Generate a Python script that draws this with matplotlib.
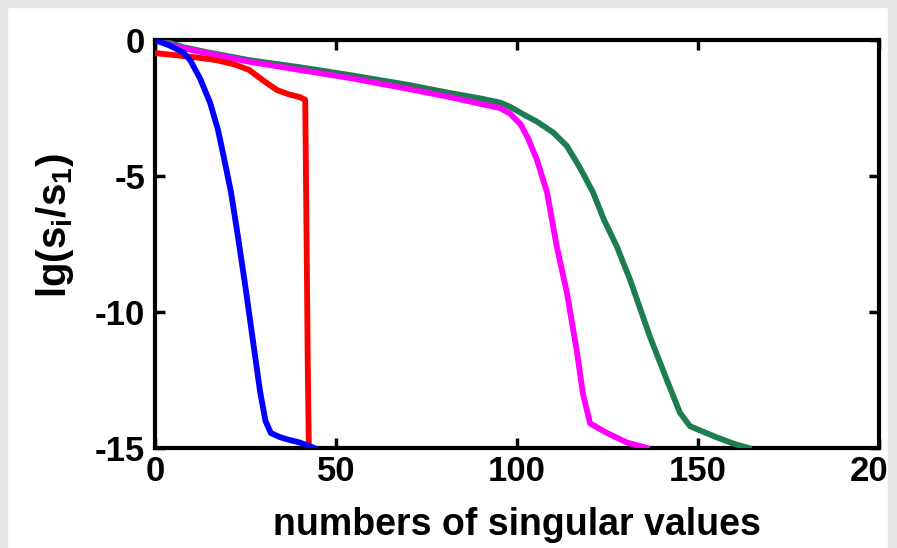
import matplotlib
matplotlib.use("Agg")
import matplotlib.pyplot as plt
from matplotlib.patches import Rectangle

plt.rcParams['font.family'] = ['Liberation Sans', 'DejaVu Sans']
plt.rcParams['font.weight'] = 'bold'
plt.rcParams['axes.unicode_minus'] = False
plt.rcParams['mathtext.fontset'] = 'custom'
plt.rcParams['mathtext.rm'] = 'Liberation Sans:bold'
plt.rcParams['mathtext.it'] = 'Liberation Sans:bold'
plt.rcParams['mathtext.bf'] = 'Liberation Sans:bold'

# blue series
blue_x = [0, 4, 7.7, 9.7, 12.4, 15.2, 17.4, 19, 21, 23, 25, 27, 29, 30.5, 32, 34.5, 37, 40, 42, 44]
blue_y = [0, -0.2, -0.45, -0.74, -1.4, -2.3, -3.3, -4.3, -5.6, -7.3, -9.1, -11.0, -12.9, -14.0, -14.45, -14.6, -14.7, -14.8, -14.9, -15.0]

# red series
red_x = [0, 5, 12, 17, 22, 26, 30, 33.7, 37, 40, 41.5, 42.0, 42.2, 42.5]
red_y = [-0.48, -0.55, -0.65, -0.74, -0.9, -1.1, -1.5, -1.84, -2.0, -2.1, -2.2, -9.0, -12.0, -15.0]

# magenta series
mag_x = [0, 5, 12, 26, 40, 53.9, 70, 81.5, 90, 95.3, 98, 101, 103, 105.5, 108.3, 111, 113.8, 116.6, 118.2, 120.2, 124.9, 130.4, 135.9]
mag_y = [0, -0.22, -0.42, -0.8, -1.1, -1.4, -1.8, -2.1, -2.35, -2.5, -2.7, -3.1, -3.6, -4.4, -5.6, -7.6, -9.3, -11.5, -13.0, -14.1, -14.45, -14.8, -15.0]

# green series
grn_x = [0, 4, 7.7, 14.4, 26, 40, 53.9, 70, 81.5, 90, 95.3, 98, 102, 105.5, 110, 113.8, 117.4, 121, 124, 127.6, 131.2, 136.7, 141.4, 145, 147.8, 155, 160, 164]
grn_y = [0, -0.1, -0.26, -0.45, -0.74, -1.0, -1.29, -1.65, -1.95, -2.15, -2.3, -2.45, -2.75, -3.0, -3.4, -3.9, -4.7, -5.6, -6.6, -7.6, -8.8, -10.9, -12.5, -13.7, -14.2, -14.6, -14.85, -15.0]

x_ticks = [0, 50, 100, 150, 200]
y_ticks = [0, -5, -10, -15]

fig = plt.figure(figsize=(8.97, 5.48), dpi=100)
ax = fig.add_axes([155/897, 1-448/548, (879-155)/897, (448-40)/548])

lw = 4.2
ax.plot(grn_x, grn_y, color='#1e7d4f', lw=lw, zorder=3)
ax.plot(mag_x, mag_y, color='#ff00ff', lw=lw, zorder=4)
ax.plot(red_x, red_y, color='#ff0000', lw=lw, zorder=5)
ax.plot(blue_x, blue_y, color='#0000ff', lw=lw, zorder=6)

ax.set_xlim(0, 200)
ax.set_ylim(-15, 0)
ax.set_xticks(x_ticks)
ax.set_yticks(y_ticks)
ax.tick_params(direction='in', length=7, width=2.5, top=True, right=True,
               labelsize=25)
ax.tick_params(axis='y', pad=7)
ax.tick_params(axis='x', pad=5)
for s in ax.spines.values():
    s.set_linewidth(3)
for lab in ax.get_xticklabels() + ax.get_yticklabels():
    lab.set_fontweight('bold')

ax.set_xlabel('numbers of singular values', fontsize=27, fontweight='bold')
ax.xaxis.set_label_coords(0.5, (448 - 535) / 408)
ax.xaxis.label.set_verticalalignment('baseline')
ax.set_ylabel(r'lg(s$_{\rm i}$/s$_{1}$)', fontsize=29, fontweight='bold')
ax.yaxis.set_label_coords((76 - 155) / 724, (448 - 225) / 408)

gray = '#e6e6e6'
fig.patches.append(Rectangle((0, 0), 7/897, 1, transform=fig.transFigure, color=gray, zorder=10))
fig.patches.append(Rectangle((0, 1-7/548), 1, 7/548, transform=fig.transFigure, color=gray, zorder=10))
fig.patches.append(Rectangle((888/897, 0), 9/897, 1, transform=fig.transFigure, color=gray, zorder=10))

fig.savefig('out.png', dpi=100)
